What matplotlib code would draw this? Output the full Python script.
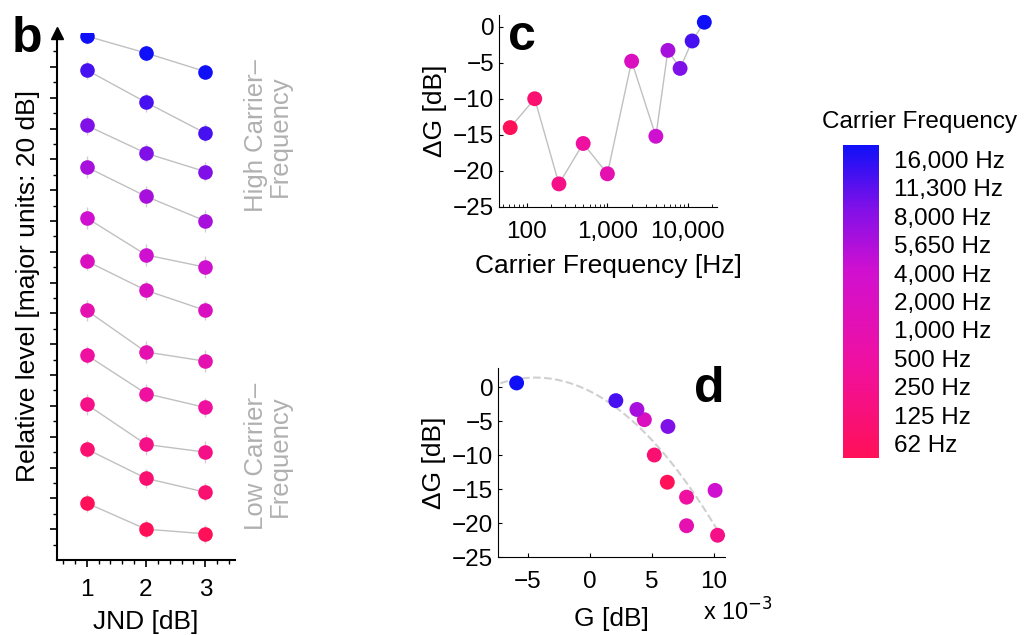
import numpy as np
import matplotlib
matplotlib.use("Agg")
import matplotlib.pyplot as plt
from matplotlib.colors import LinearSegmentedColormap, Normalize
from matplotlib.cm import ScalarMappable
from matplotlib.ticker import FixedLocator, MultipleLocator, FuncFormatter

plt.rcParams["font.family"] = ["Liberation Sans", "DejaVu Sans"]

# carrier frequencies, low -> high
freqs = [62, 125, 250, 500, 1000, 2000, 4000, 5650, 8000, 11300, 16000]
freq_labels = ["62 Hz", "125 Hz", "250 Hz", "500 Hz", "1,000 Hz", "2,000 Hz",
               "4,000 Hz", "5,650 Hz", "8,000 Hz", "11,300 Hz", "16,000 Hz"]

# panel b: relative level [dB] at JND = 1, 2, 3 (one row per carrier)
jnd = [1, 2, 3]
rel_level = [
    [37, 20, 17],
    [72, 53, 44],
    [101, 75, 70],
    [133, 108, 99],
    [162, 135, 129],
    [194, 175, 162],
    [222, 198, 190],
    [255, 236, 220],
    [282, 264, 252],
    [318, 297, 277],
    [340, 329, 317],
]
rel_err = [6, 6, 7, 6, 7, 6, 7, 7, 6, 6, 5]

# panel c/d: level change and gain
delta_g = [-14.0, -10.0, -21.8, -16.2, -20.4, -4.8, -15.2, -3.3, -5.8, -2.0, 0.6]
gain_milli = [6.25, 5.2, 10.3, 7.8, 7.8, 4.4, 10.1, 3.8, 6.3, 2.1, -5.9]

cmap = LinearSegmentedColormap.from_list("carrier", [
    (0.0, "#ff1058"), (0.3, "#f010a0"), (0.6, "#d010d0"),
    (0.8, "#8010e8"), (1.0, "#1010f8")])
n = len(freqs)
colors = [cmap(i / (n - 1)) for i in range(n)]

W, H = 1028, 635
fig = plt.figure(figsize=(W / 100, H / 100), dpi=100)


def px_axes(l, t, r, b):
    return fig.add_axes([l / W, 1 - b / H, (r - l) / W, (b - t) / H])


LINE = "#c0c0c0"
FS_TICK, FS_LAB = 17.5, 19

# ---- panel b
axb = px_axes(57, 33, 235, 560)
for i in range(n):
    axb.errorbar(jnd, rel_level[i], yerr=rel_err[i], fmt="none",
                 ecolor="#d8cbd8", elinewidth=1, zorder=1)
    axb.plot(jnd, rel_level[i], "-", color=LINE, lw=1, zorder=2)
    axb.plot(jnd, rel_level[i], "o", color=colors[i], ms=10.5, mec="none", zorder=3)
axb.set_xlim(0.5, 3.5)
axb.set_ylim(0, 342)
axb.set_xticks(jnd)
axb.xaxis.set_minor_locator(MultipleLocator(0.2))
axb.yaxis.set_major_locator(FixedLocator(np.arange(20, 340, 20)))
axb.yaxis.set_minor_locator(FixedLocator(np.arange(10, 340, 20)))
axb.set_yticklabels([])
axb.tick_params(axis="both", which="major", length=5, width=1.2,
                labelsize=FS_TICK, pad=9)
axb.tick_params(axis="both", which="minor", length=3, width=1)
for s in ("top", "right"):
    axb.spines[s].set_visible(False)
axb.spines["left"].set_linewidth(1.5)
axb.spines["bottom"].set_linewidth(1.5)
axb.plot(0, 1, "^k", ms=9, transform=axb.transAxes, clip_on=False)
axb.set_xlabel("JND [dB]", fontsize=FS_LAB, labelpad=6)
axb.set_ylabel("Relative level [major units: 20 dB]", fontsize=FS_LAB)
axb.yaxis.set_label_coords(-17 / 178, 0.52)
fig.text(12 / W, 1 - 52 / H, "b", fontsize=36, fontweight="bold", va="baseline")
fig.text(268 / W, 1 - 136 / H, "High Carrier–\nFrequency", rotation=90,
         fontsize=18.5, color="#b0b0b0", ha="center", va="center", linespacing=0.95)
fig.text(268 / W, 1 - 456 / H, "Low Carrier–\nFrequency", rotation=90,
         fontsize=18.5, color="#b0b0b0", ha="center", va="center", linespacing=0.95)

# ---- panel c
axc = px_axes(499, 15, 717, 207)
axc.plot(freqs, delta_g, "-", color=LINE, lw=1, zorder=1)
axc.scatter(freqs, delta_g, c=colors, s=115, edgecolors="none", zorder=2)
axc.set_xscale("log")
axc.set_xlim(45, 23000)
axc.set_ylim(-25, 1.6)
axc.set_xticks([100, 1000, 10000])
axc.xaxis.set_major_formatter(FuncFormatter(lambda v, p: f"{int(v):,}"))
axc.set_yticks([0, -5, -10, -15, -20, -25])
axc.set_yticklabels(["0", "−5", "−10", "−15", "−20", "−25"])
axc.set_xlabel("Carrier Frequency [Hz]", fontsize=FS_LAB, labelpad=8)
axc.set_ylabel("ΔG [dB]", fontsize=FS_LAB)
fig.text(508 / W, 1 - 50 / H, "c", fontsize=36, fontweight="bold", va="baseline")

# ---- panel d
axd = px_axes(498, 368, 725, 557)
fit = np.polyfit(gain_milli, delta_g, 2)
gx = np.linspace(-7.2, 10.5, 200)
axd.plot(gx, np.polyval(fit, gx), "--", color="#d0d0d0", lw=1.5, zorder=1)
axd.scatter(gain_milli, delta_g, c=colors, s=115, edgecolors="none", zorder=2)
axd.set_xlim(-7.4, 10.9)
axd.set_ylim(-25, 2.8)
axd.set_xticks([-5, 0, 5, 10])
axd.set_xticklabels(["−5", "0", "5", "10"])
axd.set_yticks([0, -5, -10, -15, -20, -25])
axd.set_yticklabels(["0", "−5", "−10", "−15", "−20", "−25"])
axd.set_xlabel("G [dB]", fontsize=FS_LAB, labelpad=10)
axd.set_ylabel("ΔG [dB]", fontsize=FS_LAB)
fig.text(694 / W, 1 - 402 / H, "d", fontsize=36, fontweight="bold", va="baseline")
fig.text(703 / W, 1 - 621 / H, r"x 10$^{-3}$", fontsize=17, va="baseline")

for ax in (axc, axd):
    for s in ("top", "right"):
        ax.spines[s].set_visible(False)
    ax.tick_params(axis="both", which="both", direction="in", labelsize=FS_TICK)
    ax.tick_params(axis="x", which="both", pad=10)
    ax.tick_params(which="major", length=3)
    ax.tick_params(which="minor", length=2)

# ---- colorbar
cax = px_axes(843, 145, 879, 458)
sm = ScalarMappable(norm=Normalize(-0.5, n - 0.5), cmap=cmap)
cb = fig.colorbar(sm, cax=cax, ticks=range(n))
cb.ax.set_yticklabels(freq_labels)
cb.ax.tick_params(length=0, labelsize=FS_TICK, pad=11)
cb.outline.set_visible(False)
fig.text(920 / W, 1 - 122 / H, "Carrier Frequency", fontsize=FS_TICK,
         ha="center", va="center")

fig.savefig("out.png", dpi=100)
